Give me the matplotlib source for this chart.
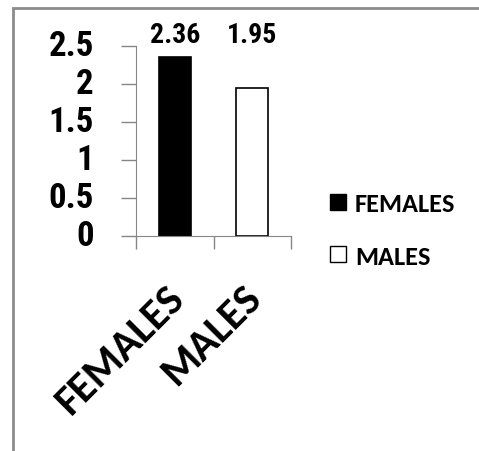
import matplotlib.pyplot as plt
from matplotlib.patches import Rectangle
from matplotlib.lines import Line2D
from matplotlib.transforms import offset_copy, blended_transform_factory

groups = ["FEMALES", "MALES"]
means = [2.36, 1.95]
yticks = [0, 0.5, 1, 1.5, 2, 2.5]
ytick_labels = ["0", "0.5", "1", "1.5", "2", "2.5"]

NARROW = ["Roboto Condensed", "DejaVu Sans"]
LABEL = ["Carlito", "DejaVu Sans"]

fig = plt.figure(figsize=(4.79, 4.52), dpi=100)

# grey frame round the chart area
fig.patches.append(Rectangle((12.5 / 479, -0.05), 1.0, 1 - 9 / 452 + 0.05,
                             transform=fig.transFigure, fill=False,
                             edgecolor="#8c8c8c", linewidth=2.0))

ax = fig.add_axes([136 / 479, 1 - 237 / 452, 155 / 479, 190 / 452])
x = list(range(len(groups)))
ax.bar(x, means, width=0.41, color=["black", "white"],
       edgecolor="black", linewidth=1.2)

# value labels sit on one line just above the axis top
top = blended_transform_factory(ax.transData, ax.transAxes)
for xi, v in zip(x, means):
    ax.text(xi, 1.0, f"{v:.2f}", ha="center", va="baseline",
            fontsize=20, fontweight="bold", family=NARROW,
            transform=offset_copy(top, fig=fig, x=0, y=4, units="dots"))

ax.set_xlim(-0.5, 1.5)
ax.set_ylim(0, 2.5)
ax.spines["top"].set_visible(False)
ax.spines["right"].set_visible(False)
ax.spines["left"].set_color("#868686")
ax.spines["bottom"].set_color("#868686")

ax.set_yticks(yticks)
ax.set_yticklabels(ytick_labels, fontsize=25, fontweight="bold", family=NARROW)
ax.tick_params(axis="y", length=11, width=1, color="#868686", pad=19.5)
for lab in ax.get_yticklabels():
    lab.set_verticalalignment("center")

# category names, slanted, under the x axis
ax.set_xticks(x)
ax.set_xticklabels([])
ax.tick_params(axis="x", length=0)
ax.set_xticks([-0.5, 0.5, 1.5], minor=True)
ax.tick_params(axis="x", which="minor", length=9.4, width=1, color="#868686")
base = blended_transform_factory(ax.transData, ax.transAxes)
for xi, g in zip(x, groups):
    ax.text(xi, 0.0, g, rotation=45, rotation_mode="anchor", ha="right", va="top",
            fontsize=31, fontweight="bold", family=LABEL,
            transform=offset_copy(base, fig=fig, x=-10, y=-42, units="dots"))

handles = [Line2D([], [], marker="s", linestyle="none", markersize=11,
                  markerfacecolor=c, markeredgecolor="black", markeredgewidth=1)
           for c in ["black", "white"]]
fig.legend(handles, groups, loc="upper left",
           bbox_to_anchor=(330 / 479, 1 - 193 / 452), frameon=False,
           borderpad=0, borderaxespad=0,
           handlelength=0.6, handletextpad=0.35, labelspacing=1.12,
           prop={"family": LABEL, "weight": "bold", "size": 19})

fig.savefig("out.png", dpi=100)
